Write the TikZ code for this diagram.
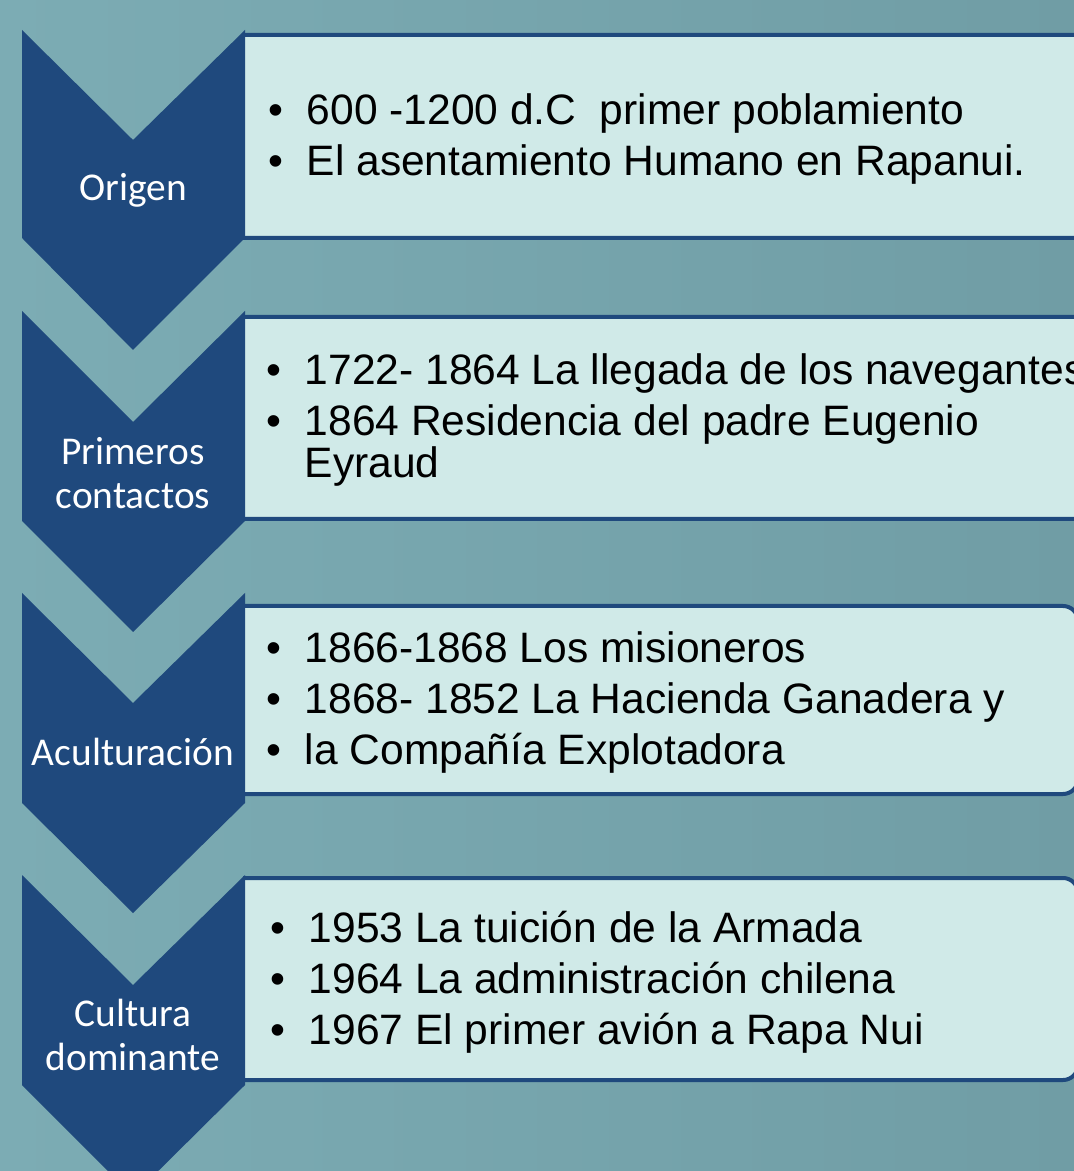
\documentclass[tikz,border=0pt]{standalone}
\usepackage{fontspec}
\newfontfamily\arialfont{Liberation Sans}
\newfontfamily\calibrifont{Carlito}
\definecolor{chevblue}{RGB}{31,73,125}
\definecolor{boxfill}{RGB}{208,234,232}
\definecolor{bgleft}{RGB}{124,172,180}
\definecolor{bgright}{RGB}{112,157,165}
\newcommand{\itm}[1]{\makebox[0.38cm][l]{\textbullet}#1}
\tikzset{
  chevron/.style={fill=chevblue},
  infobox/.style={draw=chevblue, line width=0.04cm, fill=boxfill, rounded corners=0.15cm},
  stagelabel/.style={text=white, font=\calibrifont\fontsize{11.2}{12.5}\selectfont, align=center, inner sep=0pt},
  itemtext/.style={text=black, font=\arialfont\fontsize{12.1}{14.5}\selectfont, align=left, inner sep=0pt, anchor=base west}
}

\begin{document}
\begin{tikzpicture}[x=0.01cm, y=-0.01cm]
  % Background
  \useasboundingbox (0,0) rectangle (1074,1171);
  \clip (0,0) rectangle (1074,1171);
  \shade[left color=bgleft, right color=bgright] (0,0) rectangle (1074,1171);

  % Boxes on the right
  \draw[infobox] (243,35) -- (1100,35) -- (1100,238) -- (243,238);
  \draw[infobox] (243,317) -- (1100,317) -- (1100,519) -- (243,519);
  \draw[infobox] (243,606) -- (1078,606) -- (1078,794) -- (243,794);
  \draw[infobox] (243,878) -- (1078,878) -- (1078,1080) -- (243,1080);

  % Chevrons
  \fill[chevron] (22,30) -- (133,140) -- (245,30) -- (245,238) -- (133,350) -- (22,238) -- cycle;
  \fill[chevron] (22,311) -- (133,422) -- (245,311) -- (245,521) -- (133,632) -- (22,521) -- cycle;
  \fill[chevron] (22,593) -- (133,703) -- (245,593) -- (245,803) -- (133,913) -- (22,803) -- cycle;
  \fill[chevron] (22,875) -- (133,985) -- (245,875) -- (245,1085) -- (133,1196) -- (22,1085) -- cycle;

  % Stage names
  \node[stagelabel] (origen) at (133,190) {Origen};
  \node[stagelabel] (contactos) at (133,473) {Primeros\\contactos};
  \node[stagelabel] (aculturacion) at (133,752) {Aculturación};
  \node[stagelabel] (cultura) at (133,1035) {Cultura\\dominante};

  % Items (anchored at the last line)
  \node[itemtext] (items1) at (268,176) {\itm{600 -1200 d.C~ primer poblamiento}\\
    \itm{El asentamiento Humano en Rapanui.}};
  \node[itemtext] (items2) at (266,478) {\itm{1722- 1864 La llegada de los navegantes}\\
    \itm{1864 Residencia del padre Eugenio}\\[-2.3pt]
    \hspace*{0.38cm}Eyraud};
  \node[itemtext] (items3) at (266,764) {\itm{1866-1868 Los misioneros}\\
    \itm{1868- 1852 La Hacienda Ganadera y}\\
    \itm{la Compañía Explotadora}};
  \node[itemtext] (items4) at (270,1044) {\itm{1953 La tuición de la Armada}\\
    \itm{1964 La administración chilena}\\
    \itm{1967 El primer avión a Rapa Nui}};
\end{tikzpicture}
\end{document}
